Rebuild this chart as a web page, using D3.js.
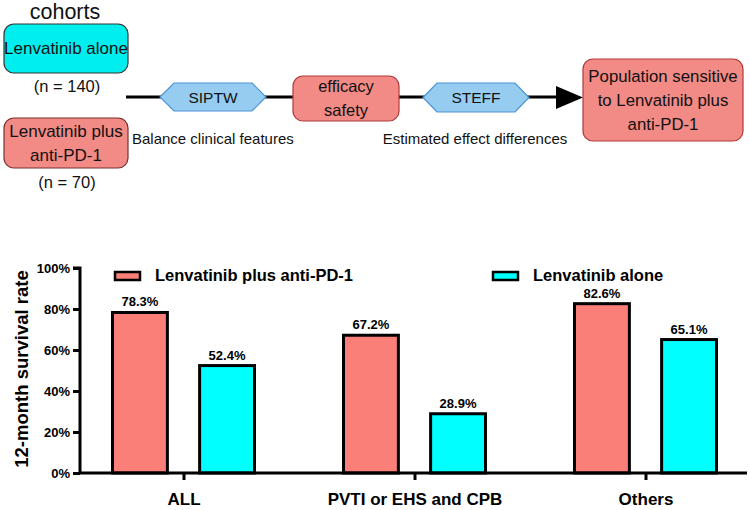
<!DOCTYPE html>
<html>
<head>
<meta charset="utf-8">
<script src="https://cdn.jsdelivr.net/npm/d3@7"></script>
<style>
  body { margin: 0; background: #fff; }
  svg { font-family: Arial, "Liberation Sans", sans-serif; }
</style>
</head>
<body>
<svg id="chart" width="750" height="510"></svg>
<script>
// chart data
const categories = ['ALL', 'PVTI or EHS and CPB', 'Others'];
const series = ['Lenvatinib plus anti-PD-1', 'Lenvatinib alone'];
const combo = [78.3, 67.2, 82.6];
const alone = [52.4, 28.9, 65.1];
const yTicks = [0, 20, 40, 60, 80, 100];
const colors = ['#FA7F78', '#00FFFF'];

const svg = d3.select('#chart');

// ---- flow diagram on top ----
const flow = svg.append('g');

function roundBox(x, y, w, h, fill, stroke, lines, fs, lh) {
  flow.append('rect')
    .attr('x', x).attr('y', y).attr('width', w).attr('height', h)
    .attr('rx', 10).attr('fill', fill).attr('stroke', stroke).attr('stroke-width', 1.2);
  const t = flow.append('text')
    .attr('text-anchor', 'middle').attr('font-size', fs).attr('fill', '#111');
  const y0 = y + h / 2 - (lines.length - 1) * lh / 2 + fs * 0.35;
  lines.forEach((l, i) => t.append('tspan').attr('x', x + w / 2).attr('y', y0 + i * lh).text(l));
}

function hexBox(x, y, w, h, label) {
  const c = 14;
  const pts = [[x, y + h / 2], [x + c, y], [x + w - c, y], [x + w, y + h / 2], [x + w - c, y + h], [x + c, y + h]];
  flow.append('polygon')
    .attr('points', pts.map(p => p.join(',')).join(' '))
    .attr('fill', '#95CCF0').attr('stroke', '#4C94D6').attr('stroke-width', 1.2);
  flow.append('text')
    .attr('x', x + w / 2).attr('y', y + h / 2 + 5.5)
    .attr('text-anchor', 'middle').attr('font-size', 15.5).attr('fill', '#111').text(label);
}

function plain(x, y, s, fs, anchor) {
  flow.append('text').attr('x', x).attr('y', y)
    .attr('text-anchor', anchor || 'middle').attr('font-size', fs).attr('fill', '#111').text(s);
}

// main line + arrow
flow.append('line').attr('x1', 126).attr('x2', 560).attr('y1', 97).attr('y2', 97)
  .attr('stroke', '#000').attr('stroke-width', 3);
flow.append('polygon').attr('points', '556,86 583,97.5 556,109').attr('fill', '#000');

plain(65, 19, 'cohorts', 21.5);
roundBox(4, 24, 124, 49, '#00EEEE', '#333', ['Lenvatinib alone'], 17, 18);
plain(67, 92, '(n = 140)', 16.5);
roundBox(4, 118, 124, 50, '#F28A85', '#7a3030', ['Lenvatinib plus', 'anti-PD-1'], 17, 24);
plain(67, 188, '(n = 70)', 16.5);

hexBox(160, 83, 106, 28, 'SIPTW');
plain(132, 144, 'Balance clinical features', 15, 'start');
roundBox(293, 76, 106, 45, '#F28A85', '#b03a3a', ['efficacy', 'safety'], 16.5, 24);
hexBox(423, 83, 106, 29, 'STEFF');
plain(475, 144, 'Estimated effect differences', 15);
roundBox(583, 59, 160, 82, '#F28A85', '#b03a3a', ['Population sensitive', 'to Lenvatinib plus', 'anti-PD-1'], 16.8, 24);

// ---- bar chart ----
const x0 = d3.scaleBand().domain(categories).range([68, 761]);
const x1 = d3.scaleBand().domain(series)
  .range([x0.bandwidth() / 2 - 71, x0.bandwidth() / 2 + 71]).paddingInner(0.37);
const y = d3.scaleLinear().domain([0, 100]).range([473, 268]);

const rows = categories.map((c, i) => ({ cat: c, vals: [combo[i], alone[i]] }));

const groups = svg.append('g').selectAll('g').data(rows).join('g')
  .attr('transform', d => `translate(${x0(d.cat)},0)`);

groups.selectAll('rect').data(d => d.vals.map((v, j) => ({ key: series[j], v, j })))
  .join('rect')
  .attr('x', d => x1(d.key))
  .attr('y', d => y(d.v))
  .attr('width', x1.bandwidth())
  .attr('height', d => y(0) - y(d.v))
  .attr('fill', d => colors[d.j])
  .attr('stroke', '#000').attr('stroke-width', 3);

groups.selectAll('text').data(d => d.vals.map((v, j) => ({ key: series[j], v })))
  .join('text')
  .attr('x', d => x1(d.key) + x1.bandwidth() / 2)
  .attr('y', d => y(d.v) - 6)
  .attr('text-anchor', 'middle')
  .attr('font-size', 13).attr('font-weight', 'bold')
  .text(d => d.v.toFixed(1) + '%');

// axes
const yAxis = d3.axisLeft(y).tickValues(yTicks).tickFormat(d => d + '%').tickSize(7).tickPadding(3);
const yg = svg.append('g').attr('transform', 'translate(80,0)').call(yAxis);
yg.select('.domain').attr('stroke-width', 3).attr('d', 'M-7,268H0V474');
yg.selectAll('.tick line').attr('stroke-width', 3);
yg.selectAll('.tick text').attr('font-size', 13).attr('font-weight', 'bold')
  .attr('font-family', 'Arial, "Liberation Sans", sans-serif').attr('fill', '#000');

const xCenter = d3.scalePoint().domain(categories).range([x0(categories[0]) + x0.bandwidth() / 2,
  x0(categories[2]) + x0.bandwidth() / 2]);
const xAxis = d3.axisBottom(xCenter).tickSize(7).tickPadding(13);
const xg = svg.append('g').attr('transform', `translate(0,${y(0)})`).call(xAxis);
xg.select('.domain').attr('stroke-width', 3).attr('d', 'M79,0H747');
xg.selectAll('.tick line').attr('stroke-width', 3);
xg.selectAll('.tick text').attr('font-size', 17).attr('font-weight', 'bold')
  .attr('font-family', 'Arial, "Liberation Sans", sans-serif').attr('fill', '#000');

svg.append('text')
  .attr('transform', 'translate(28,369) rotate(-90)')
  .attr('text-anchor', 'middle').attr('font-size', 18.5).attr('font-weight', 'bold')
  .text('12-month survival rate');

// legend
const legendX = [115, 493];
series.forEach((s, i) => {
  svg.append('rect').attr('x', legendX[i]).attr('y', 272).attr('width', 25).attr('height', 8)
    .attr('fill', colors[i]).attr('stroke', '#000').attr('stroke-width', 2.5);
  svg.append('text').attr('x', legendX[i] + 40).attr('y', 281)
    .attr('font-size', 16.5).attr('font-weight', 'bold').text(s);
});
</script>
</body>
</html>
